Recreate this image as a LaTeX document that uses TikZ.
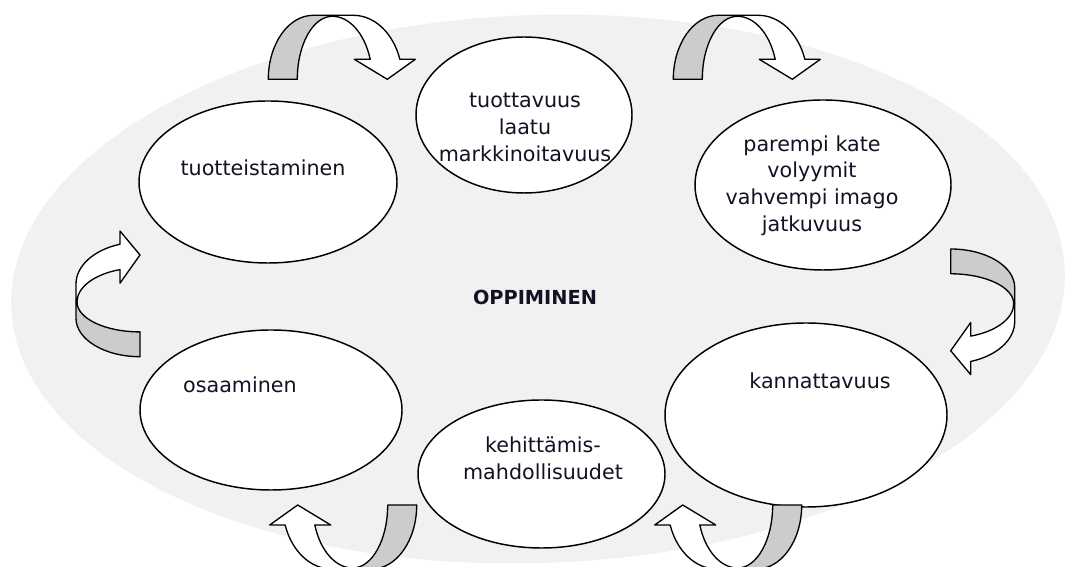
\documentclass[tikz,border=0pt]{standalone}
\usepackage{fontspec}
\setmainfont{DejaVu Sans}
\usetikzlibrary{shapes.geometric}

\definecolor{haze}{RGB}{241,241,241}
\definecolor{band}{RGB}{204,204,204}
\definecolor{ink}{RGB}{18,18,36}

\tikzset{
  bubble/.style={draw=black, fill=white, ellipse, line width=1.1pt, inner sep=0pt},
  caption/.style={text=ink, font=\fontsize{15.5}{20}\selectfont, align=center, inner sep=0pt},
  ribbon/.style={draw=black, line width=1pt, line join=round},
}

% A ribbon-style curved arrow: grey back band rising from the leg,
% white front band falling into the arrow head.
% #1,#2 = position of the outer leg corner, #3 = rotation, #4 = length scale
\newcommand{\ribbonarrow}[4]{%
  \begin{scope}[shift={(#1,#2)}, rotate=#3, xscale=#4]
    \filldraw[ribbon, fill=band] (0,0) -- (29,0)
      arc[start angle=180, end angle=90, x radius=35, y radius=63]
      -- (64,64) -- (45,64)
      arc[start angle=90, end angle=180, x radius=45, y radius=64] -- cycle;
    \filldraw[ribbon, fill=white] (64,63) -- (64,64) -- (85,64)
      arc[start angle=90, end angle=18.2, x radius=49, y radius=64]
      -- (147,20) -- (119,0) -- (86,20) -- (101.9,20)
      arc[start angle=18.5, end angle=90, x radius=40, y radius=63] -- cycle;
  \end{scope}}

\begin{document}
\begin{tikzpicture}[x=0.75pt, y=0.75pt]
  \clip (0,0) rectangle (1067,567);
  \fill[white] (0,0) rectangle (1067,567);

  % learning: the surrounding field
  \fill[haze, rotate around={2:(538,278)}] (538,278) ellipse[x radius=527, y radius=274];

  % the cycle of stages
  \node[bubble, minimum width=162pt, minimum height=117pt] (tuot) at (524,452) {};
  \node[bubble, minimum width=193.5pt, minimum height=121.5pt] (tuote) at (268,385) {};
  \node[bubble, minimum width=192pt, minimum height=127.5pt] (kate) at (823,382) {};
  \node[bubble, minimum width=196.5pt, minimum height=120pt] (osaa) at (271,157) {};
  \node[bubble, minimum width=185.25pt, minimum height=111pt] (kehi) at (541.5,93) {};
  \node[bubble, minimum width=211.5pt, minimum height=138pt] (kann) at (806,152) {};

  \node[caption] (tuottxt) at (525,439.5) {tuottavuus\\laatu\\markkinoitavuus};
  \node[caption] (tuotetxt) at (263,399) {tuotteistaminen};
  \node[caption] (katetxt) at (812,381.5) {parempi kate\\volyymit\\vahvempi imago\\jatkuvuus};
  \node[caption] (osaatxt) at (240,182) {osaaminen};
  \node[caption] (kehitxt) at (543,109) {kehittämis-\\mahdollisuudet};
  \node[caption] (kanntxt) at (820,186) {kannattavuus};

  \node[text=ink, font=\fontsize{14.5}{17}\selectfont\bfseries, inner sep=0pt] (oppi) at (535,270) {OPPIMINEN};

  % arrows between the stages
  \ribbonarrow{268.3}{487.7}{0}{1}
  \ribbonarrow{673.3}{487.7}{0}{1}
  \ribbonarrow{950.7}{318}{-90}{0.855}
  \ribbonarrow{140}{210.3}{90}{0.855}
  \ribbonarrow{416.7}{62}{180}{1}
  \ribbonarrow{801.7}{62}{180}{1}
\end{tikzpicture}
\end{document}
